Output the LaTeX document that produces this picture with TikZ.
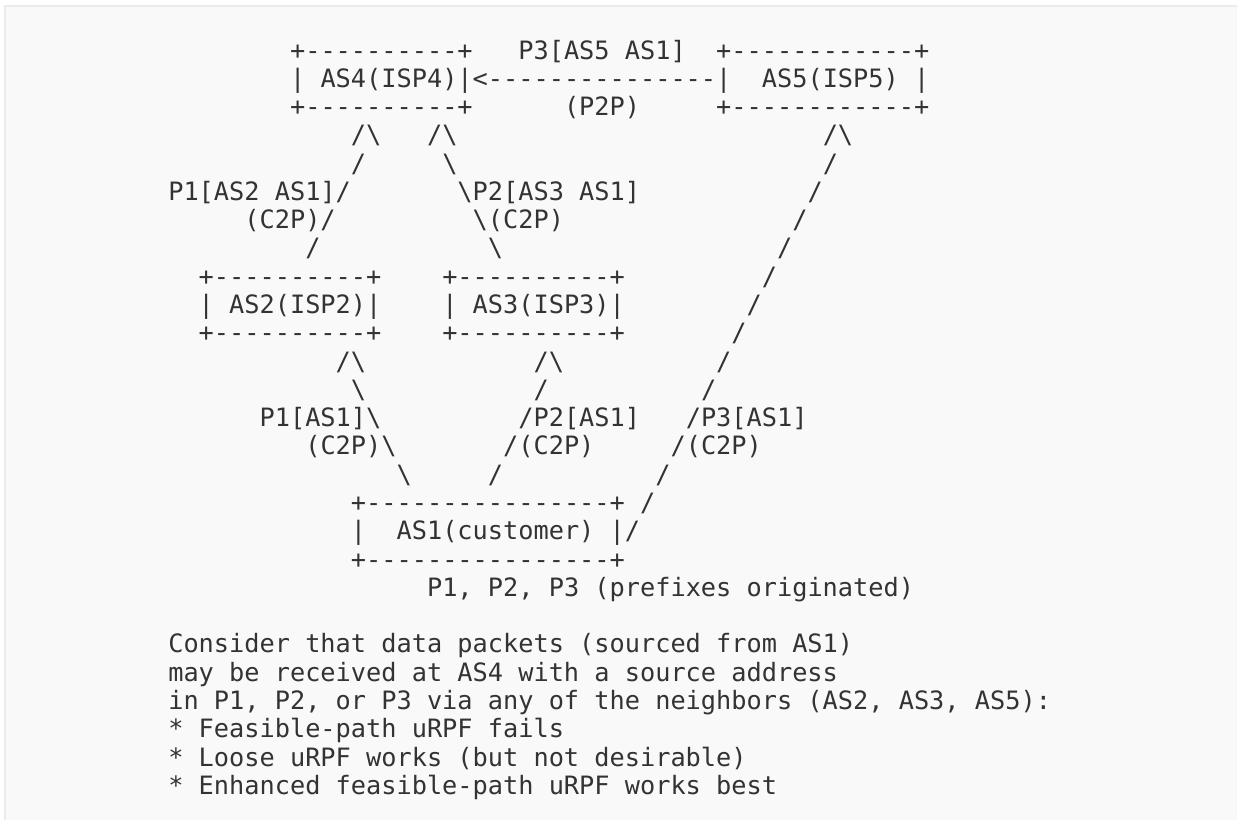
\documentclass[tikz,border=0pt]{standalone}
\usepackage{fontspec}
\setmonofont{DejaVu Sans Mono}
\definecolor{ink}{HTML}{333333}
\definecolor{boxbg}{HTML}{F9F9F9}
\definecolor{boxline}{HTML}{EBEBEB}
\newcommand\bs{\textbackslash}
% name, column, line, text
\newcommand\tline[4]{\node[tx] (#1) at ({168.3+15.22*#2},{59.0+28.28*(#3-1)}) {#4};}
\begin{document}
\begin{tikzpicture}[x=0.75pt,y=-0.75pt,
  tx/.style={anchor=base west, inner sep=0pt, outer sep=0pt, text=ink,
    font=\ttfamily\fontsize{18.96}{22}\selectfont}]
\useasboundingbox (0,0) rectangle (1237,819);
\clip (0,0) rectangle (1237,819);
\fill[white] (0,0) rectangle (1237,819);
\draw[boxline, line width=1.5, fill=boxbg] (5,6) rectangle (1260,840);
% line 1-3
\tline{l1a}{8}{1}{+----------+}
\tline{l1b}{23}{1}{P3[AS5 AS1]}
\tline{l1c}{36}{1}{+------------+}
\tline{l2a}{8}{2}{| AS4(ISP4)|<---------------|}
\tline{l2b}{39}{2}{AS5(ISP5)}
\tline{l2c}{49}{2}{|}
\tline{l3a}{8}{3}{+----------+}
\tline{l3b}{26}{3}{(P2P)}
\tline{l3c}{36}{3}{+------------+}
% line 4-8
\tline{l4a}{12}{4}{/\bs}
\tline{l4b}{17}{4}{/\bs}
\tline{l4c}{43}{4}{/\bs}
\tline{l5a}{12}{5}{/}
\tline{l5b}{18}{5}{\bs}
\tline{l5c}{43}{5}{/}
\tline{l6a}{0}{6}{P1[AS2 AS1]/}
\tline{l6b}{19}{6}{\bs P2[AS3 AS1]}
\tline{l6c}{42}{6}{/}
\tline{l7a}{5}{7}{(C2P)/}
\tline{l7b}{20}{7}{\bs(C2P)}
\tline{l7c}{41}{7}{/}
\tline{l8a}{9}{8}{/}
\tline{l8b}{21}{8}{\bs}
\tline{l8c}{40}{8}{/}
% line 9-11
\tline{l9a}{2}{9}{+----------+}
\tline{l9b}{18}{9}{+----------+}
\tline{l9c}{39}{9}{/}
\tline{l10a}{2}{10}{| AS2(ISP2)|}
\tline{l10b}{18}{10}{| AS3(ISP3)|}
\tline{l10c}{38}{10}{/}
\tline{l11a}{2}{11}{+----------+}
\tline{l11b}{18}{11}{+----------+}
\tline{l11c}{37}{11}{/}
% line 12-16
\tline{l12a}{11}{12}{/\bs}
\tline{l12b}{24}{12}{/\bs}
\tline{l12c}{36}{12}{/}
\tline{l13a}{12}{13}{\bs}
\tline{l13b}{24}{13}{/}
\tline{l13c}{35}{13}{/}
\tline{l14a}{6}{14}{P1[AS1]\bs}
\tline{l14b}{23}{14}{/P2[AS1]}
\tline{l14c}{34}{14}{/P3[AS1]}
\tline{l15a}{9}{15}{(C2P)\bs}
\tline{l15b}{22}{15}{/(C2P)}
\tline{l15c}{33}{15}{/(C2P)}
\tline{l16a}{15}{16}{\bs}
\tline{l16b}{21}{16}{/}
\tline{l16c}{32}{16}{/}
% line 17-20
\tline{l17a}{12}{17}{+----------------+}
\tline{l17b}{31}{17}{/}
\tline{l18a}{12}{18}{|}
\tline{l18b}{15}{18}{AS1(customer)}
\tline{l18c}{29}{18}{|/}
\tline{l19a}{12}{19}{+----------------+}
\tline{l20a}{17}{20}{P1, P2, P3 (prefixes originated)}
% text
\tline{l22}{0}{22}{Consider that data packets (sourced from AS1)}
\tline{l23}{0}{23}{may be received at AS4 with a source address}
\tline{l24}{0}{24}{in P1, P2, or P3 via any of the neighbors (AS2, AS3, AS5):}
\tline{l25}{0}{25}{* Feasible-path uRPF fails}
\tline{l26}{0}{26}{* Loose uRPF works (but not desirable)}
\tline{l27}{0}{27}{* Enhanced feasible-path uRPF works best}
\end{tikzpicture}
\end{document}
